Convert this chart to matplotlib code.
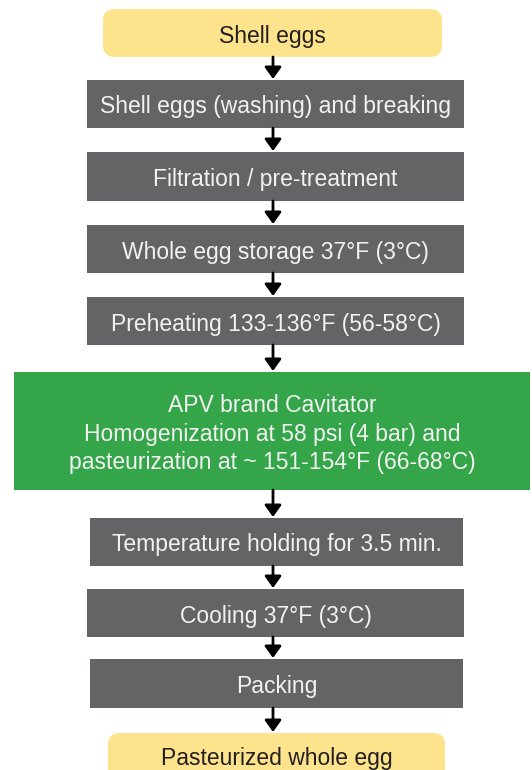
import matplotlib
matplotlib.use("Agg")
import matplotlib.pyplot as plt
from matplotlib.patches import FancyBboxPatch, Rectangle

# ---- data ----
steps = [
    "Shell eggs",
    "Shell eggs (washing) and breaking",
    "Filtration / pre-treatment",
    "Whole egg storage 37°F (3°C)",
    "Preheating 133-136°F (56-58°C)",
    "APV brand Cavitator\nHomogenization at 58 psi (4 bar) and\npasteurization at ~ 151-154°F (66-68°C)",
    "Temperature holding for 3.5 min.",
    "Cooling 37°F (3°C)",
    "Packing",
    "Pasteurized whole egg",
]
kinds = ["io", "proc", "proc", "proc", "proc", "key", "proc", "proc", "proc", "io"]

# ---- layout (pixels, top-origin) ----
boxes = [
    (103, 9, 442, 57),
    (87, 80, 464, 128),
    (87, 152, 464, 201),
    (87, 225, 464, 273),
    (87, 297, 464, 345),
    (14, 372, 530, 490),
    (90, 518, 463, 566),
    (87, 589, 464, 637),
    (90, 659, 463, 708),
    (108, 733, 445, 790),
]
colors = {"io": "#FDE38B", "proc": "#636466", "key": "#34A549"}
tcolors = {"io": "#231F20", "proc": "#F2F2F2", "key": "#F2F2F2"}

W, H = 532, 770
fig = plt.figure(figsize=(W / 100, H / 100), dpi=100)
ax = fig.add_axes([0, 0, 1, 1])
ax.set_xlim(0, W)
ax.set_ylim(H, 0)
ax.axis("off")

font = ["Liberation Sans", "DejaVu Sans"]
cx = 273

for label, kind, (x0, y0, x1, y1) in zip(steps, kinds, boxes):
    if kind == "io":
        p = FancyBboxPatch((x0 + 12, y0 + 12), (x1 - x0) - 24, (y1 - y0) - 24,
                           boxstyle="round,pad=12", fc=colors[kind], ec="none")
    else:
        p = Rectangle((x0, y0), x1 - x0, y1 - y0, fc=colors[kind], ec="none")
    ax.add_patch(p)
    if kind == "io" and y1 > H:
        yc = y0 + 22
    elif kind == "io":
        yc = (y0 + y1) / 2 + 1
    else:
        yc = (y0 + y1) / 2
    ax.text((x0 + x1) / 2, yc + 3, label, ha="center", va="center",
            color=tcolors[kind], fontsize=16.5, family=font, linespacing=1.33)

# arrows
for (a, b) in zip(boxes[:-1], boxes[1:]):
    ya = a[3]
    yb = b[1]
    ax.annotate("", xy=(cx, yb - 1), xytext=(cx, ya),
                arrowprops=dict(arrowstyle="-|>,head_width=0.5,head_length=0.7",
                                color="black", lw=2, shrinkA=0, shrinkB=0))

fig.savefig("out.png", dpi=100)
